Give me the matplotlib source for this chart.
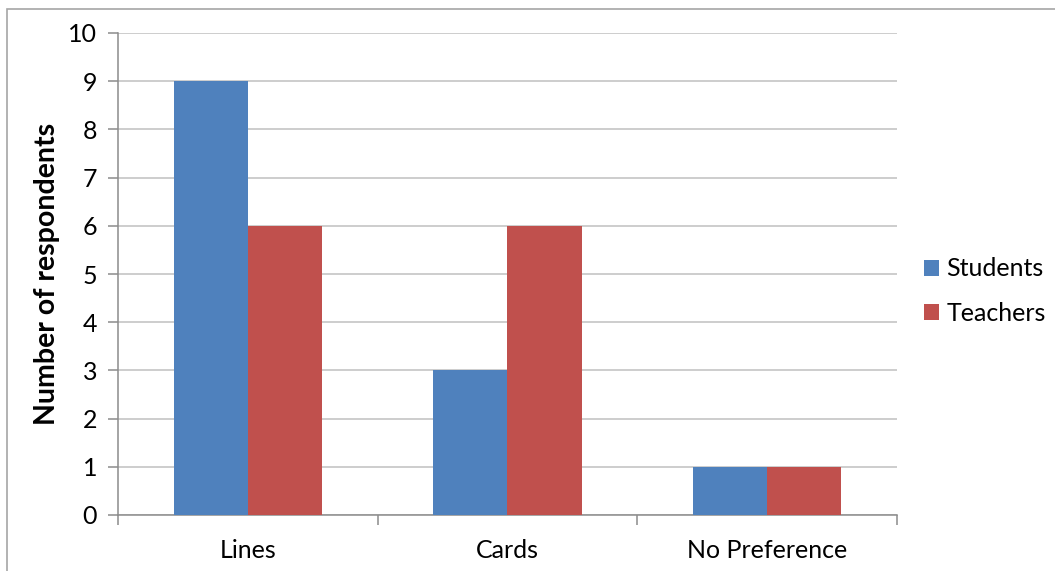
import matplotlib
matplotlib.use("Agg")
import matplotlib.pyplot as plt
from matplotlib.patches import Rectangle
import numpy as np

categories = ["Lines", "Cards", "No Preference"]
students = [9, 3, 1]
teachers = [6, 6, 1]
series_names = ["Students", "Teachers"]
y_ticks = list(range(0, 11))

BLUE = "#4F81BD"
RED = "#C0504D"
GRID = "#C0C0C0"
AXIS = "#8C8C8C"

plt.rcParams["font.family"] = ["Lato", "DejaVu Sans"]

fig = plt.figure(figsize=(10.55, 5.71), dpi=100)
fig.patch.set_facecolor("white")

# thin frame around the chart area
fig.patches.append(Rectangle((7 / 1055, -0.05), 1.1, 1 - 9 / 571 + 0.05,
                             transform=fig.transFigure, fill=False,
                             edgecolor="#A6A6A6", linewidth=1.2))

ax = fig.add_axes([118 / 1055, 56 / 571, 779 / 1055, 482 / 571])

x = np.arange(len(categories))
w = 0.285
ax.bar(x - w / 2, students, width=w, color=BLUE, label=series_names[0], zorder=3)
ax.bar(x + w / 2, teachers, width=w, color=RED, label=series_names[1], zorder=3)

ax.set_xlim(-0.5, len(categories) - 0.5)
ax.set_ylim(0, 10)
ax.set_yticks(y_ticks)
ax.yaxis.grid(True, color=GRID, linewidth=1.1, zorder=0)
ax.set_axisbelow(True)

for s in ["top", "right"]:
    ax.spines[s].set_visible(False)
for s in ["left", "bottom"]:
    ax.spines[s].set_color(AXIS)
    ax.spines[s].set_linewidth(1.1)

ax.tick_params(axis="y", direction="out", length=7, width=1.1, color=AXIS,
               labelsize=18, pad=8, labelcolor="black")

# category boundaries carry the tick marks, labels sit at the centres
ax.set_xticks(np.arange(-0.5, len(categories)), labels=[""] * (len(categories) + 1))
ax.tick_params(axis="x", which="major", direction="out", length=7, width=1.1,
               color=AXIS)
ax.set_xticks(x, labels=categories, minor=True)
ax.tick_params(axis="x", which="minor", length=0, labelsize=18, pad=17)

ax.set_ylabel("Number of respondents", fontsize=20.5, fontweight="bold",
              labelpad=6)

fig.legend(loc="center left", bbox_to_anchor=(914 / 1055, 1 - 291 / 571),
           frameon=False, fontsize=18, handlelength=0.6, handleheight=0.6,
           handletextpad=0.3, labelspacing=0.85, borderaxespad=0)

fig.savefig("out.png", dpi=100, facecolor="white")
